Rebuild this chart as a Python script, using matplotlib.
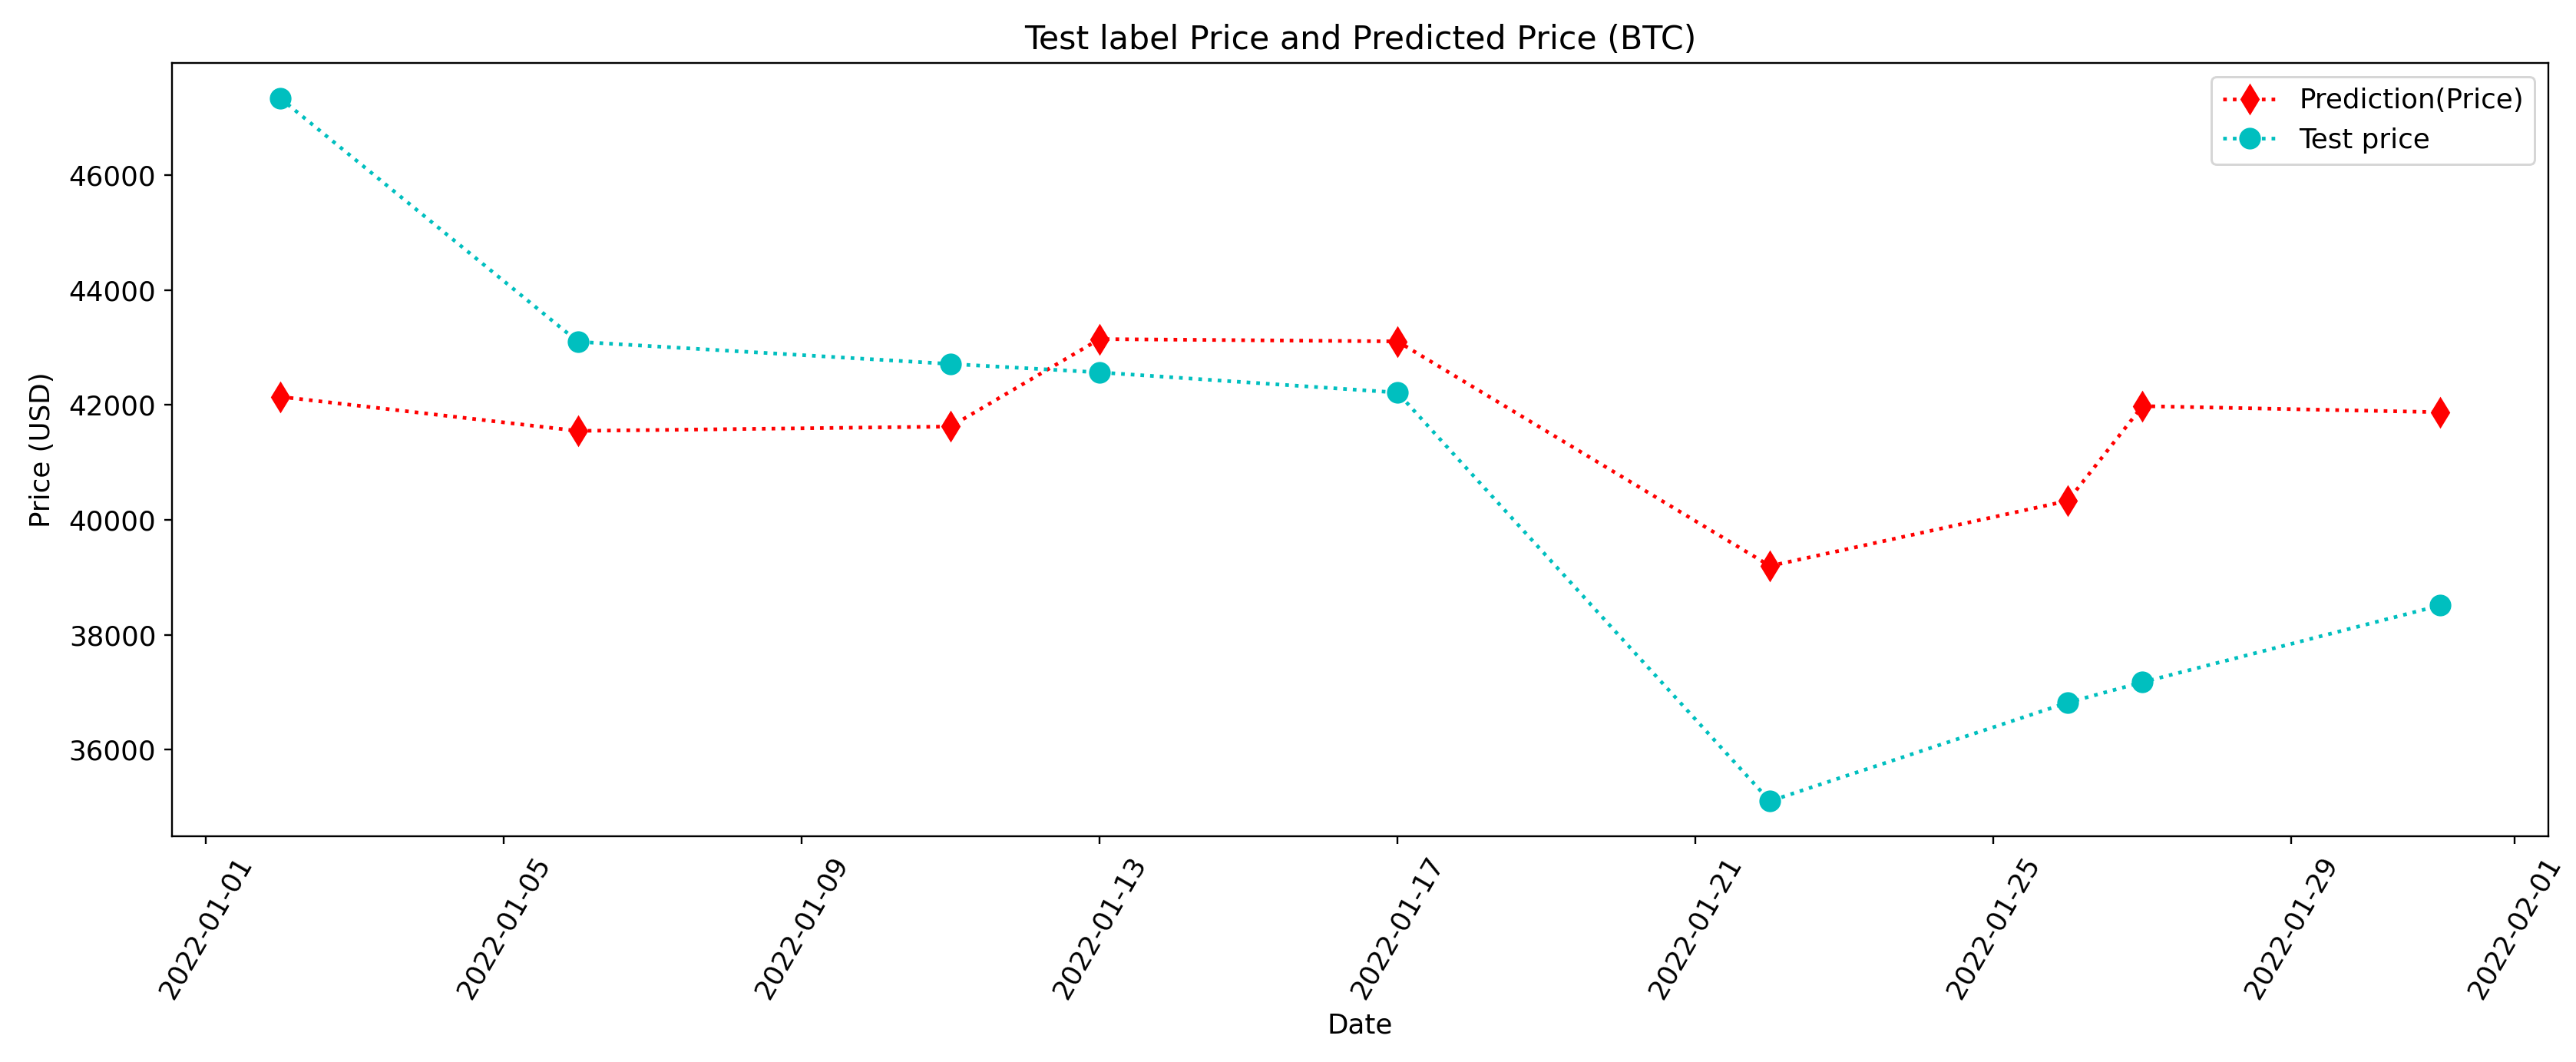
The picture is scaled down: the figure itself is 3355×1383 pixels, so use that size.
import matplotlib
matplotlib.use("Agg")
import matplotlib.pyplot as plt
import matplotlib.dates as mdates
import pandas as pd

dates = ["2022-01-02", "2022-01-06", "2022-01-11", "2022-01-13", "2022-01-17",
         "2022-01-22", "2022-01-26", "2022-01-27", "2022-01-31"]
prediction_price = [42145, 41550, 41626, 43149, 43109, 39198, 40334, 41982, 41876]
test_price = [47345, 43102, 42716, 42569, 42218, 35104, 36820, 37174, 38512]

title = "Test label Price and Predicted Price (BTC)"
xlabel = "Date"
ylabel = "Price (USD)"
legend_labels = ["Prediction(Price)", "Test price"]

x = pd.to_datetime(dates)

plt.rcParams["font.size"] = 12

DPI = 214
fig = plt.figure(figsize=(3355 / DPI, 1383 / DPI), dpi=DPI)
ax = fig.add_axes([0.0668, 0.2126, 0.9225, 0.7281])

ax.plot(x, prediction_price, "r:", marker="d", markersize=8.5, linewidth=1.6,
        label=legend_labels[0])
ax.plot(x, test_price, "c:", marker="o", markersize=8.5, linewidth=1.6,
        label=legend_labels[1])

ax.xaxis.set_major_locator(mdates.DayLocator(bymonthday=range(1, 32, 4)))
ax.xaxis.set_major_formatter(mdates.DateFormatter("%Y-%m-%d"))
plt.setp(ax.get_xticklabels(), rotation=60)

ax.set_title(title, fontsize=14.4)
ax.set_xlabel(xlabel)
ax.set_ylabel(ylabel, labelpad=6)
ax.legend(loc="upper right")

fig.savefig("out.png", dpi=DPI)
